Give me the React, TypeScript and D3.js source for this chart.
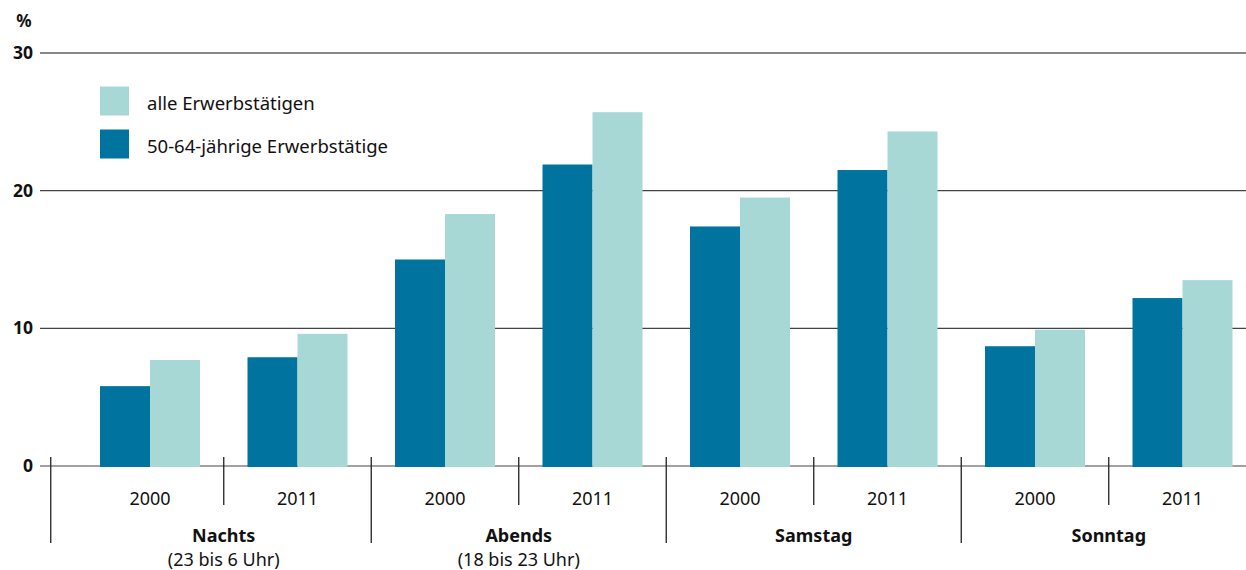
import React from "react";
import * as d3 from "d3";

const groups = ["Nachts", "Abends", "Samstag", "Sonntag"];
const groupSubtitles = ["(23 bis 6 Uhr)", "(18 bis 23 Uhr)", "", ""];
const years = ["2000", "2011"];
const seriesNames = ["50-64-jährige Erwerbstätige", "alle Erwerbstätigen"];
// values per group x year, in order of groups then years
const olderWorkers = [5.8, 7.9, 15.0, 21.9, 17.4, 21.5, 8.7, 12.2];
const allWorkers = [7.7, 9.6, 18.3, 25.7, 19.5, 24.3, 9.9, 13.5];
const yTicks = [0, 10, 20, 30];

const W = 1246;
const H = 570;
const FONT = "'Noto Sans', sans-serif";
const DARK = "#00749f";
const LIGHT = "#a7d8d5";

export default function App() {
  const slots = groups.flatMap((g) => years.map((y) => `${g}|${y}`));
  const x = d3.scaleBand<string>().domain(slots).range([76.25, 1256.25]).paddingInner(0).paddingOuter(0);
  const xs = d3.scaleBand<string>().domain(["dark", "light"]).range([0, x.bandwidth()]).paddingInner(0).paddingOuter(0.475);
  const y = d3.scaleLinear().domain([0, 30]).range([466, 53]);

  const legend = [
    { label: seriesNames[1], color: LIGHT, cy: 101 },
    { label: seriesNames[0], color: DARK, cy: 144 },
  ];

  return (
    <svg width={W} height={H} style={{ position: "absolute", left: 0, top: 0, background: "#fff" }} fontFamily={FONT}>
      {/* gridlines */}
      {yTicks.map((t) => (
        <g key={t}>
          <line x1={40} x2={W} y1={y(t)} y2={y(t)} stroke={t === 30 ? "#111" : "#444"} strokeWidth={1.2} />
          <text x={33} y={y(t)} dy="0.35em" textAnchor="end" fontSize={17.5} fontWeight="bold" fill="#111">
            {t}
          </text>
        </g>
      ))}
      <text x={24} y={21} dy="0.35em" textAnchor="middle" fontSize={17} fontWeight="bold" fill="#111">%</text>

      {/* bars */}
      {slots.map((s, i) => (
        <g key={s} transform={`translate(${x(s)},0)`}>
          <rect x={xs("dark")} width={xs.bandwidth()} y={y(olderWorkers[i])} height={y(0) - y(olderWorkers[i]) + 1} fill={DARK} />
          <rect x={xs("light")} width={xs.bandwidth()} y={y(allWorkers[i])} height={y(0) - y(allWorkers[i]) + 1} fill={LIGHT} />
        </g>
      ))}

      {/* category axis */}
      {groups.map((g, gi) => {
        const s0 = `${g}|${years[0]}`;
        const s1 = `${g}|${years[1]}`;
        const gx = gi === 0 ? (x(s0) as number) - 25.5 : (x(s0) as number);
        const mid = x(s1) as number;
        return (
          <g key={g}>
            <line x1={gx} x2={gx} y1={457} y2={543} stroke="#222" strokeWidth={1.3} />
            <line x1={mid} x2={mid} y1={457} y2={505} stroke="#222" strokeWidth={1.3} />
            {years.map((yr) => {
              const s = `${g}|${yr}`;
              return (
                <text key={yr} x={(x(s) as number) + x.bandwidth() / 2} y={499} dy="0.35em" textAnchor="middle" fontSize={18} fill="#111">
                  {yr}
                </text>
              );
            })}
            <text x={mid} y={536} dy="0.35em" textAnchor="middle" fontSize={18} fontWeight="bold" fill="#111">
              {g}
            </text>
            {groupSubtitles[gi] && (
              <text x={mid} y={560} dy="0.35em" textAnchor="middle" fontSize={18} fill="#111">
                {groupSubtitles[gi]}
              </text>
            )}
          </g>
        );
      })}

      {/* legend */}
      {legend.map((l) => (
        <g key={l.label}>
          <rect x={100} y={l.cy - 14.5} width={29} height={29} fill={l.color} />
          <text x={147} y={l.cy + 3} dy="0.35em" fontSize={18.5} fill="#111">{l.label}</text>
        </g>
      ))}
    </svg>
  );
}
